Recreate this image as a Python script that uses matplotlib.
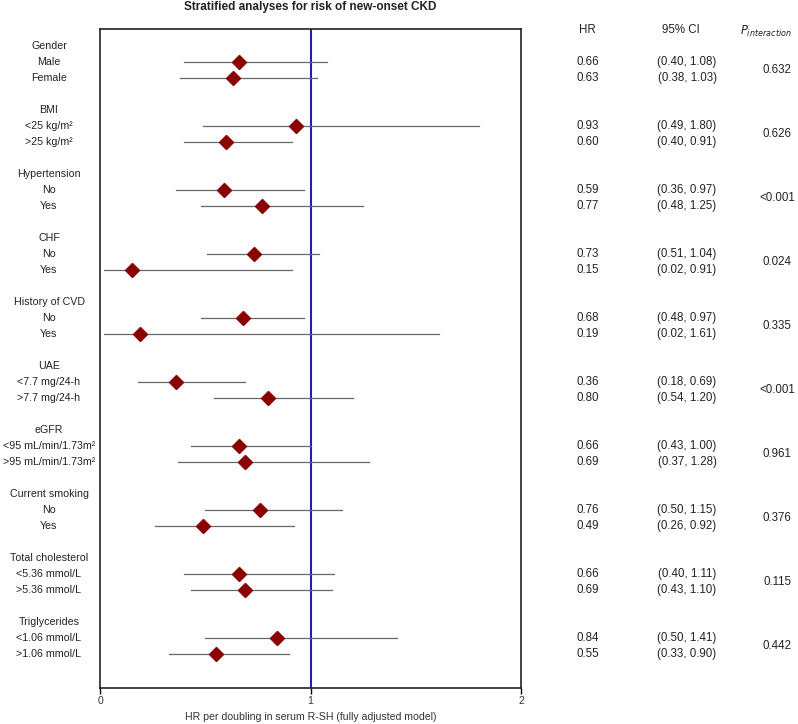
import matplotlib
matplotlib.use("Agg")
import matplotlib.pyplot as plt

plt.rcParams['font.family'] = ['Liberation Sans', 'DejaVu Sans']

groups = ["Gender", "BMI", "Hypertension", "CHF", "History of CVD", "UAE", "eGFR",
          "Current smoking", "Total cholesterol", "Triglycerides"]
subgroups = [["Male", "Female"], ["<25 kg/m²", ">25 kg/m²"], ["No", "Yes"], ["No", "Yes"],
             ["No", "Yes"], ["<7.7 mg/24-h", ">7.7 mg/24-h"],
             ["<95 mL/min/1.73m²", ">95 mL/min/1.73m²"], ["No", "Yes"],
             ["<5.36 mmol/L", ">5.36 mmol/L"], ["<1.06 mmol/L", ">1.06 mmol/L"]]
hr = [[0.66, 0.63], [0.93, 0.60], [0.59, 0.77], [0.73, 0.15], [0.68, 0.19],
      [0.36, 0.80], [0.66, 0.69], [0.76, 0.49], [0.66, 0.69], [0.84, 0.55]]
lo = [[0.40, 0.38], [0.49, 0.40], [0.36, 0.48], [0.51, 0.02], [0.48, 0.02],
      [0.18, 0.54], [0.43, 0.37], [0.50, 0.26], [0.40, 0.43], [0.50, 0.33]]
hi = [[1.08, 1.03], [1.80, 0.91], [0.97, 1.25], [1.04, 0.91], [0.97, 1.61],
      [0.69, 1.20], [1.00, 1.28], [1.15, 0.92], [1.11, 1.10], [1.41, 0.90]]
p_int = ["0.632", "0.626", "<0.001", "0.024", "0.335", "<0.001", "0.961", "0.376", "0.115", "0.442"]
x_ticks = [0, 1, 2]

W, H = 798, 724
fig = plt.figure(figsize=(W / 100, H / 100), dpi=100)
ax_l, ax_r, ax_t, ax_b = 100, 521, 29, 688
ax = fig.add_axes([ax_l / W, 1 - ax_b / H, (ax_r - ax_l) / W, (ax_b - ax_t) / H])

row0, step = 46, 16
def yrow(px):
    return (px - row0) / step

ax.set_ylim(yrow(ax_b), yrow(ax_t))
ax.set_xlim(0, 2)
ax.set_yticks([])
ax.set_xticks(x_ticks)
ax.set_xticklabels([str(t) for t in x_ticks], fontsize=7.6, color='#333333')
ax.tick_params(axis='x', direction='out', length=4, width=1, pad=2)
for s in ax.spines.values():
    s.set_linewidth(1.2)
    s.set_color('#222222')
ax.set_xlabel("HR per doubling in serum R-SH (fully adjusted model)", fontsize=7.6,
              color='#333333', labelpad=4)

ax.axvline(1, color='#2020B0', lw=1.5, zorder=1)

fs = 8.3
fs_lab = 7.7
x_lab = 49 / W
def fig_y(r):
    return 1 - (row0 + step * r) / H

for g in range(len(groups)):
    base = 4 * g
    fig.text(x_lab, fig_y(base), groups[g], ha='center', va='center', fontsize=fs_lab, color='#222222')
    for k in range(2):
        r = base + 1 + k
        fig.text(x_lab, fig_y(r), subgroups[g][k], ha='center', va='center', fontsize=fs_lab, color='#222222')
        ax.plot([lo[g][k], hi[g][k]], [r, r], color='#666666', lw=0.9, zorder=2)
        ax.plot(hr[g][k], r, marker='D', color='#8B0000', markersize=6.8, zorder=3, linestyle='none')
        fig.text(588 / W, fig_y(r), f"{hr[g][k]:.2f}", ha='center', va='center', fontsize=fs, color='#222222')
        fig.text(687 / W, fig_y(r), f"({lo[g][k]:.2f}, {hi[g][k]:.2f})", ha='center', va='center',
                 fontsize=fs, color='#222222')
    fig.text(777 / W, fig_y(base + 1.5), p_int[g], ha='center', va='center', fontsize=fs, color='#222222')

hy = 1 - 30 / H
fig.text(587 / W, hy, "HR", ha='center', va='center', fontsize=fs, color='#222222')
fig.text(681 / W, hy, "95% CI", ha='center', va='center', fontsize=fs, color='#222222')
fig.text(766 / W, 1 - 31 / H, r"$P_{interaction}$", ha='center', va='center', fontsize=fs, color='#222222',
         math_fontfamily='dejavusans')
fig.text(310 / W, 1 - 7 / H, "Stratified analyses for risk of new-onset CKD", ha='center', va='center',
         fontsize=8.5, fontweight='bold', color='#222222')

fig.savefig("out.png", dpi=100)
